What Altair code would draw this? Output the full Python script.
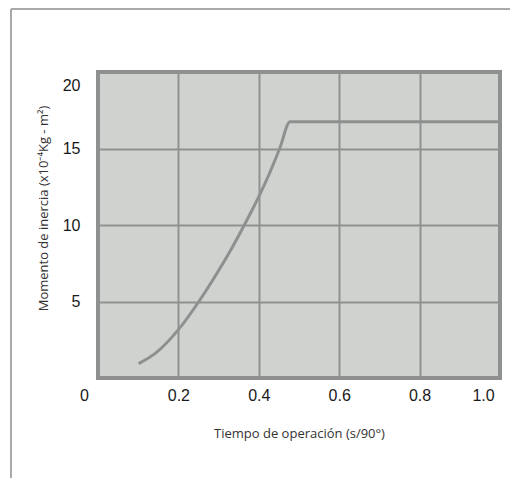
import altair as alt
import pandas as pd

# Data
tiempo = [0.101, 0.144, 0.200, 0.251, 0.294, 0.331, 0.364, 0.400, 0.427, 0.452, 0.478, 1.0]
momento = [0.94, 1.64, 3.16, 5.0, 6.76, 8.4, 10.0, 11.85, 13.4, 15.0, 16.75, 16.75]
x_ticks = [0, 0.2, 0.4, 0.6, 0.8, 1.0]
y_ticks = [5, 10, 15, 20]

df = pd.DataFrame({"t": tiempo, "m": momento})
one = pd.DataFrame({"k": [0]})

GRID = "#8f9191"
LINE = "#8e9090"

x_axis = alt.Axis(
    values=x_ticks,
    labelExpr="datum.value == 0 ? '0' : format(datum.value, '.1f')",
    labelFont="Liberation Sans",
    labelFontSize=16,
    labelColor="#1a1a1a",
    labelPadding=9,
    labelFlush=False,
    labelOffset={"condition": [{"test": "datum.value == 0", "value": -14},
                               {"test": "datum.value == 1", "value": -17}],
                 "value": 0},
    ticks=False,
    domain=False,
    grid=True,
    gridColor=GRID,
    gridWidth=2,
    title="Tiempo de operación (s/90°)",
    titleFont="Open Sans",
    titleFontSize=13,
    titleFontWeight="normal",
    titleColor="#333333",
    titlePadding=24,
)

y_axis = alt.Axis(
    values=y_ticks,
    labelFont="Liberation Sans",
    labelFontSize=16,
    labelColor="#1a1a1a",
    labelPadding=18,
    labelFlush=False,
    labelOffset={"condition": [{"test": "datum.value == 20", "value": 13}],
                 "value": 0},
    ticks=False,
    domain=False,
    grid=True,
    gridColor=GRID,
    gridWidth=2,
    title="Momento de inercia (x10⁻⁴Kg - m²)",
    titleFont="Open Sans",
    titleFontSize=13,
    titleFontWeight="normal",
    titleColor="#333333",
    titleAngle=-90,
    titleAlign="center",
    titleBaseline="middle",
    titleX=-55,
    titleY=136,
)

line = alt.Chart(df).mark_line(color=LINE, strokeWidth=3, interpolate="monotone").encode(
    x=alt.X("t:Q", scale=alt.Scale(domain=[0, 1], nice=False), axis=x_axis),
    y=alt.Y("m:Q", scale=alt.Scale(domain=[0, 20], nice=False), axis=y_axis),
)

frame_left = alt.Chart(one).mark_rule(color="#a9a9a9", strokeWidth=2).encode(
    x=alt.value(-87), y=alt.value(-63), y2=alt.value(420)
)
frame_top = alt.Chart(one).mark_rule(color="#a9a9a9", strokeWidth=2).encode(
    x=alt.value(-87), x2=alt.value(420), y=alt.value(-63)
)

chart = alt.layer(line, frame_left, frame_top).properties(
    width=402,
    height=306,
    autosize=alt.AutoSizeParams(type="none"),
    padding={"left": 90, "top": 64, "right": 10, "bottom": 100},
).configure(
    background="white",
).configure_view(
    fill="#d0d2cf",
    stroke="#8e9090",
    strokeWidth=4,
)

chart.save("out.html", embed_options={"renderer": "svg", "actions": False})
